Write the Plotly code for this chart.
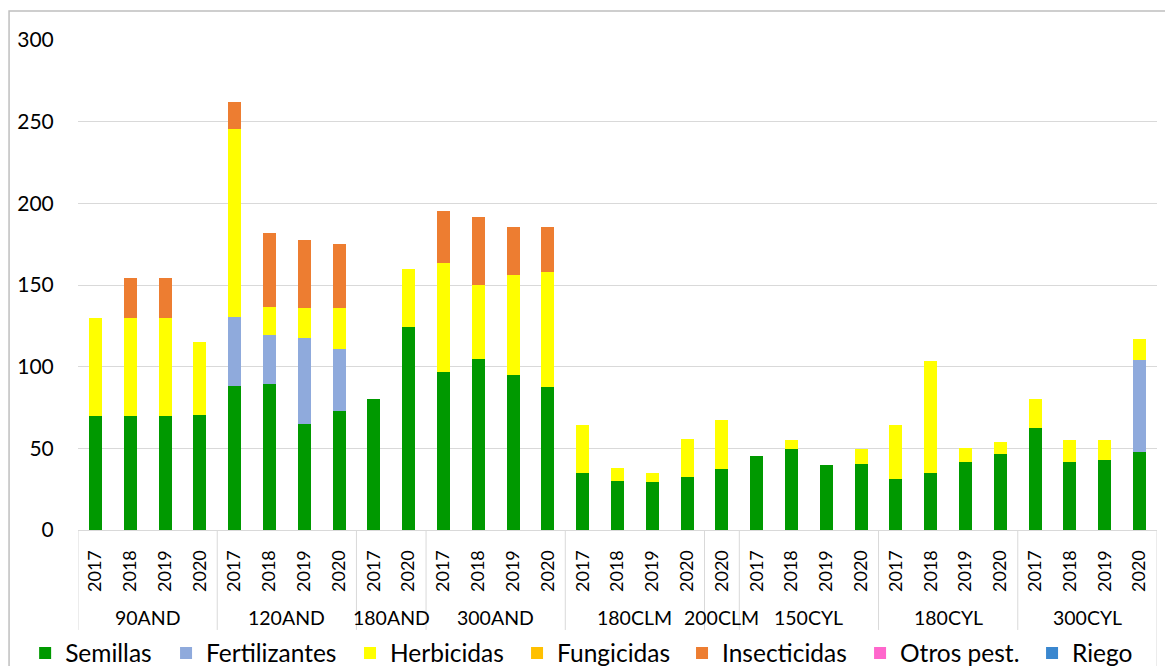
import plotly.graph_objects as go

# categories
groups = ["90AND", "120AND", "180AND", "300AND", "180CLM", "200CLM", "150CYL", "180CYL", "300CYL"]
group_years = [
    ["2017", "2018", "2019", "2020"],
    ["2017", "2018", "2019", "2020"],
    ["2017", "2020"],
    ["2017", "2018", "2019", "2020"],
    ["2017", "2018", "2019", "2020"],
    ["2020"],
    ["2017", "2018", "2019", "2020"],
    ["2017", "2018", "2019", "2020"],
    ["2017", "2018", "2019", "2020"],
]

# series values (one per bar, in order)
semillas = [70, 70, 70, 70.2,
            88.3, 89.6, 64.7, 72.7,
            80, 124.4,
            97, 105, 95.1, 87.7,
            34.6, 29.9, 29.3, 32.3,
            37.1,
            45.1, 49.3, 39.8, 40.3,
            31.2, 34.6, 41.5, 46.4,
            62.2, 41.9, 42.6, 47.6]
fertilizantes = [0, 0, 0, 0,
                 42.4, 29.7, 52.9, 38.4,
                 0, 0,
                 0, 0, 0, 0,
                 0, 0, 0, 0,
                 0,
                 0, 0, 0, 0,
                 0, 0, 0, 0,
                 0, 0, 0, 56.5]
herbicidas = [60, 60, 60, 45,
              114.7, 17.3, 18.2, 24.7,
              0, 35.2,
              66.2, 44.9, 60.9, 70,
              29.9, 7.8, 5.9, 23.6,
              30.4,
              0, 6.1, 0, 9,
              33.3, 69.1, 8.7, 7.4,
              18.1, 12.9, 12.8, 13.1]
fungicidas = [0] * 31
insecticidas = [0, 24.3, 24.3, 0,
                16.6, 45.3, 41.5, 39.0,
                0, 0,
                32.2, 41.9, 29.7, 28,
                0, 0, 0, 0,
                0,
                0, 0, 0, 0,
                0, 0, 0, 0,
                0, 0, 0, 0]
otros = [0] * 31
riego = [0] * 31

series = [
    ("Semillas", semillas, "#009900"),
    ("Fertilizantes", fertilizantes, "#8FAADC"),
    ("Herbicidas", herbicidas, "#FFFF00"),
    ("Fungicidas", fungicidas, "#FFC000"),
    ("Insecticidas", insecticidas, "#ED7D31"),
    ("Otros pest.", otros, "#FF66CC"),
    ("Riego", riego, "#3A87CF"),
]

# flatten categories
x_idx = []
year_labels = []
for g, yrs in zip(groups, group_years):
    for y in yrs:
        x_idx.append(len(x_idx))
        year_labels.append(y)

FONT = "Lato"

# one legend per series so the entries sit where the original ones do
legend_x = [-0.049, 0.0816, 0.2521, 0.4069, 0.5598, 0.7248, 0.8842]

fig = go.Figure()
legends = {}
for i, (name, vals, col) in enumerate(series):
    key = "legend" if i == 0 else f"legend{i + 1}"
    fig.add_trace(go.Bar(x=x_idx, y=vals, name=name, legend=key,
                         marker=dict(color=col, line=dict(width=0))))
    legends[key] = dict(orientation="h", x=legend_x[i], y=-0.251, xanchor="left", yanchor="middle",
                        font=dict(family=FONT, size=24.5, color="#000"), itemclick=False,
                        bgcolor="rgba(0,0,0,0)")

# group labels and dividers
shapes = []
annotations = []
start = 0
bounds = [-0.5]
for g, yrs in zip(groups, group_years):
    n = len(yrs)
    annotations.append(dict(x=start + (n - 1) / 2, y=-0.178, xref="x", yref="paper", text=g,
                            showarrow=False, font=dict(family=FONT, size=19.5, color="#000"),
                            xanchor="center", yanchor="middle"))
    start += n
    bounds.append(start - 0.5)
for j, b in enumerate(bounds):
    shapes.append(dict(type="line", xref="x", yref="paper", x0=b, x1=b, y0=0,
                       y1=-0.4 if j == len(bounds) - 1 else -0.204,
                       line=dict(color="#D9D9D9", width=1)))

# outer chart border
shapes.append(dict(type="rect", xref="paper", yref="paper", x0=-0.0639, x1=1.1, y0=-0.4, y1=1.0592,
                   line=dict(color="#BFBFBF", width=1.5)))

fig.update_layout(
    barmode="stack",
    bargap=0.626,
    width=1165,
    height=658,
    margin=dict(l=70, r=16, t=32, b=136, autoexpand=False),
    paper_bgcolor="white",
    plot_bgcolor="white",
    font=dict(family=FONT, size=20, color="#000"),
    shapes=shapes,
    annotations=annotations,
    showlegend=True,
    **legends,
)
fig.update_xaxes(
    tickmode="array", tickvals=x_idx, ticktext=year_labels, tickangle=-90,
    range=[-0.5, len(x_idx) - 0.5], showgrid=False, zeroline=False,
    showline=True, linecolor="#D9D9D9", linewidth=1,
    ticks="outside", ticklen=12, tickcolor="rgba(0,0,0,0)",
    tickfont=dict(family=FONT, size=18, color="#000"),
)
fig.update_yaxes(
    range=[0, 300], dtick=50, showgrid=True, gridcolor="#D9D9D9", gridwidth=1.3,
    zeroline=False, ticks="outside", ticklen=19, tickcolor="rgba(0,0,0,0)",
    tickfont=dict(family=FONT, size=21, color="#000"),
)

fig.write_html("out.html")
